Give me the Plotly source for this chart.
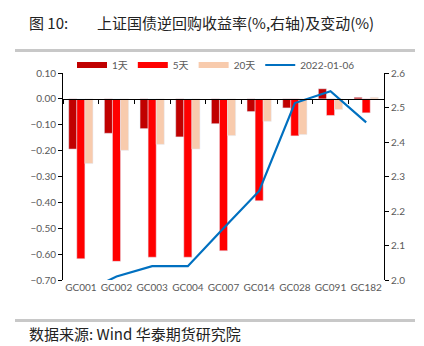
import plotly.graph_objects as go

# Repo products and yield changes (%)
categories = ["GC001", "GC002", "GC003", "GC004", "GC007", "GC014", "GC028", "GC091", "GC182"]
chg_1d = [-0.194, -0.133, -0.115, -0.147, -0.096, -0.049, -0.035, 0.039, 0.006]
chg_5d = [-0.618, -0.628, -0.612, -0.612, -0.587, -0.394, -0.143, -0.064, -0.054]
chg_20d = [-0.250, -0.199, -0.176, -0.194, -0.142, -0.087, -0.138, -0.041, 0.006]
# Yield level on 2022-01-06 (%, right axis)
yield_level = [1.96, 2.01, 2.04, 2.04, 2.15, 2.258, 2.513, 2.547, 2.457]

series_names = ["1天", "5天", "20天"]
series_colors = ["#C00000", "#FF0000", "#F8CBAD"]
line_name = "2022-01-06"
line_color = "#0070C0"

left_ticks = [0.10, 0.00, -0.10, -0.20, -0.30, -0.40, -0.50, -0.60, -0.70]
right_ticks = [2.0, 2.1, 2.2, 2.3, 2.4, 2.5, 2.6]

LEFT_RANGE = [-0.70, 0.10]
RIGHT_RANGE = [2.0, 2.6]

W, H = 424, 346
ML, MR, MT, MB = 63, 40, 73, 66
plot_w = W - ML - MR
plot_h = H - MT - MB

def px_x(p):
    return (p - ML) / plot_w

def px_y(p):
    return (H - MB - p) / plot_h

tick_font = dict(family="Lato, Liberation Sans, sans-serif", size=10, color="#595959")
cjk = "Noto Sans CJK SC, sans-serif"
text_color = "#222222"

fig = go.Figure()
for vals, name, color in zip([chg_1d, chg_5d, chg_20d], series_names, series_colors):
    fig.add_bar(x=categories, y=vals, name=name, marker_color=color, yaxis="y",
                legendgroup=name, showlegend=False)
    # wide rectangular legend swatch
    fig.add_scatter(x=[categories[0]], y=[None], name=name, mode="lines",
                    line=dict(color=color, width=6), legendgroup=name, yaxis="y")
fig.add_scatter(x=categories, y=yield_level, name=line_name, mode="lines",
                line=dict(color=line_color, width=2.2), yaxis="y2")

# position of the zero line within the plot area (paper units)
zero_pos = (0 - LEFT_RANGE[0]) / (LEFT_RANGE[1] - LEFT_RANGE[0])

# a dummy trace on xaxis2 so the zero axis is drawn
fig.add_scatter(x=categories, y=[None] * len(categories), xaxis="x2", yaxis="y",
                showlegend=False, hoverinfo="skip")

fig.update_layout(
    width=W, height=H,
    margin=dict(l=ML, r=MR, t=MT, b=MB),
    paper_bgcolor="white", plot_bgcolor="white",
    barmode="group", bargap=0.32, bargroupgap=0,
    font=dict(family=cjk, size=10, color="#595959"),
    xaxis=dict(type="category", categoryorder="array", categoryarray=categories,
               showline=False, ticks="", showgrid=False, tickfont=tick_font,
               range=[-0.5, 8.5]),
    xaxis2=dict(type="category", categoryorder="array", categoryarray=categories,
                overlaying="x", anchor="free", position=zero_pos,
                showline=True, linecolor="black", linewidth=1,
                tickson="boundaries", ticks="outside", ticklen=4, tickcolor="black",
                showticklabels=False, showgrid=False, range=[-0.5, 8.5]),
    yaxis=dict(range=LEFT_RANGE, tickvals=left_ticks, tickformat=".2f",
               showline=True, linecolor="black", linewidth=1,
               ticks="outside", ticklen=4, tickcolor="black",
               showgrid=False, zeroline=False, tickfont=tick_font),
    yaxis2=dict(range=RIGHT_RANGE, tickvals=right_ticks, tickformat=".1f",
                overlaying="y", side="right",
                showline=True, linecolor="black", linewidth=1,
                ticks="outside", ticklen=4, tickcolor="black",
                showgrid=False, zeroline=False, tickfont=tick_font),
    legend=dict(orientation="h", x=px_x(72), xanchor="left", y=px_y(65), yanchor="middle",
                font=dict(family="Lato, " + cjk, size=10, color="#595959"),
                itemwidth=30, traceorder="normal", bgcolor="rgba(0,0,0,0)"),
    showlegend=True,
)

# header, footer and separator bars
fig.add_annotation(text="图 10:", x=px_x(27), y=px_y(22), xref="paper", yref="paper",
                   xanchor="left", yanchor="middle", showarrow=False,
                   font=dict(family=cjk, size=15, color=text_color))
fig.add_annotation(text="上证国债逆回购收益率(%,右轴)及变动(%)", x=px_x(95), y=px_y(22),
                   xref="paper", yref="paper", xanchor="left", yanchor="middle",
                   showarrow=False, font=dict(family=cjk, size=15, color=text_color))
fig.add_annotation(text="数据来源: Wind 华泰期货研究院", x=px_x(27), y=px_y(333),
                   xref="paper", yref="paper", xanchor="left", yanchor="middle",
                   showarrow=False, font=dict(family=cjk, size=15, color=text_color))
for top, bot in [(49, 52), (319, 322)]:
    fig.add_shape(type="rect", xref="paper", yref="paper",
                  x0=px_x(15), x1=px_x(415), y0=px_y(bot), y1=px_y(top),
                  line=dict(width=0), fillcolor="#C8C8C8", layer="above")

fig.write_html("out.html")
